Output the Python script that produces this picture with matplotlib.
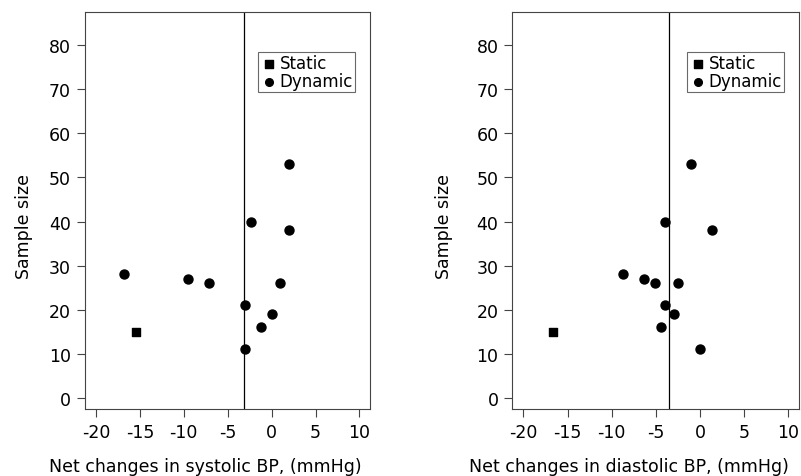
import matplotlib
matplotlib.use("Agg")
from matplotlib import pyplot as plt

plt.rcParams['font.family'] = ['DejaVu Sans']
plt.rcParams['axes.unicode_minus'] = False

# systolic panel
sys_static_x = [-15.4]
sys_static_y = [15]
sys_dyn_x = [-16.8, -9.5, -7.1, -3.0, -3.0, -1.2, 0.0, 1.0, -2.3, 2.0, 2.0]
sys_dyn_y = [28, 27, 26, 21, 11, 16, 19, 26, 40, 38, 53]
sys_line = -3.2

# diastolic panel
dia_static_x = [-16.6]
dia_static_y = [15]
dia_dyn_x = [-8.7, -6.3, -5.1, -2.5, -4.0, -3.0, -4.4, 0.0, -4.0, 1.4, -1.0]
dia_dyn_y = [28, 27, 26, 26, 21, 19, 16, 11, 40, 38, 53]
dia_line = -3.5

x_ticks = [-20, -15, -10, -5, 0, 5, 10]
y_ticks = [0, 10, 20, 30, 40, 50, 60, 70, 80]

fig = plt.figure(figsize=(8.01, 4.77), dpi=100)
ax1 = fig.add_axes([0.1061, 0.1405, 0.3558, 0.8323])
ax2 = fig.add_axes([0.6396, 0.1405, 0.3579, 0.8323])

panels = [
    (ax1, sys_static_x, sys_static_y, sys_dyn_x, sys_dyn_y, sys_line,
     'Net changes in systolic BP, (mmHg)', (0.423, -0.122), (-0.1825, 0.463)),
    (ax2, dia_static_x, dia_static_y, dia_dyn_x, dia_dyn_y, dia_line,
     'Net changes in diastolic BP, (mmHg)', (0.407, -0.122), (-0.206, 0.463)),
]

fs = 12.5
for ax, sx, sy, dx, dy, vline, xlabel, xl_pos, yl_pos in panels:
    ax.scatter(sx, sy, marker='s', s=40, color='black', label='Static', zorder=3)
    ax.scatter(dx, dy, marker='o', s=42, color='black', label='Dynamic', zorder=3)
    ax.axvline(vline, color='black', linewidth=0.9)
    ax.set_xlim(-21.25, 11.2)
    ax.set_ylim(-2.5, 87.5)
    ax.set_xticks(x_ticks)
    ax.set_yticks(y_ticks)
    ax.tick_params(direction='out', length=6, width=0.8, color='#444444',
                   labelsize=fs, pad=4)
    for sp in ax.spines.values():
        sp.set_linewidth(0.8)
        sp.set_color('#444444')
    ax.set_xlabel(xlabel, fontsize=12.5)
    ax.set_ylabel('Sample size', fontsize=fs)
    ax.xaxis.set_label_coords(*xl_pos)
    ax.yaxis.set_label_coords(*yl_pos)
    leg = ax.legend(loc='upper right', bbox_to_anchor=(0.947, 0.899),
                    frameon=True, fancybox=False, handletextpad=0.15,
                    handlelength=1.0, borderpad=0.12, labelspacing=0.0,
                    borderaxespad=0, fontsize=12, markerscale=0.85)
    leg.get_frame().set_edgecolor('#444444')
    leg.get_frame().set_linewidth(0.8)

fig.savefig('out.png', dpi=100)
